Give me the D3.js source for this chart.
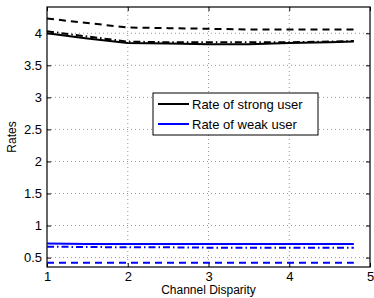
<!DOCTYPE html>
<html>
<head>
<meta charset="utf-8">
<script src="https://cdn.jsdelivr.net/npm/d3@7"></script>
<style>
  body { margin: 0; background: #fff; }
  text { font-family: "Liberation Sans", Arial, sans-serif; }
</style>
</head>
<body>
<div id="chart-area"></div>
<script>
// channel disparity samples
let xVals = [1, 1.5, 2, 2.5, 3, 3.5, 4, 4.5, 4.8];

let strongSolid   = [4.00, 3.92, 3.85, 3.84, 3.83, 3.83, 3.85, 3.86, 3.87];
let strongDashed  = [4.23, 4.16, 4.09, 4.08, 4.07, 4.06, 4.06, 4.06, 4.06];
let strongDashDot = [4.03, 3.95, 3.87, 3.86, 3.86, 3.86, 3.86, 3.87, 3.88];

let weakSolid   = [0.72, 0.71, 0.71, 0.71, 0.71, 0.71, 0.71, 0.71, 0.71];
let weakDashDot = [0.67, 0.665, 0.66, 0.66, 0.655, 0.655, 0.655, 0.655, 0.655];
let weakDashed  = [0.42, 0.42, 0.42, 0.42, 0.42, 0.42, 0.42, 0.42, 0.42];

let xTicks = [1, 2, 3, 4, 5];
let yTicks = [0.5, 1, 1.5, 2, 2.5, 3, 3.5, 4];

let legendNames = ["Rate of strong user", "Rate of weak user"];
let legendColors = ["#000", "#0000ff"];

let margin = { left: 47, top: 7, right: 4, bottom: 31 };
let width = 374 - margin.left - margin.right;
let height = 298 - margin.top - margin.bottom;

let svg = d3.select("#chart-area")
    .append("svg")
    .attr("width", 374)
    .attr("height", 298);

let g = svg.append("g")
    .attr("transform", `translate(${margin.left}, ${margin.top})`);

let xScale = d3.scaleLinear().domain([1, 5]).range([0, width]);
let yScale = d3.scaleLinear().domain([0.353, 4.41]).range([height, 0]);

// dotted grid
g.append("g")
    .selectAll("line")
    .data(xTicks.slice(1, -1))
    .enter().append("line")
    .attr("x1", d => xScale(d)).attr("x2", d => xScale(d))
    .attr("y1", 0).attr("y2", height)
    .attr("stroke", "#999").attr("stroke-width", 1)
    .attr("stroke-dasharray", "1,3");

g.append("g")
    .selectAll("line")
    .data(yTicks)
    .enter().append("line")
    .attr("x1", 0).attr("x2", width)
    .attr("y1", d => yScale(d)).attr("y2", d => yScale(d))
    .attr("stroke", "#999").attr("stroke-width", 1)
    .attr("stroke-dasharray", "1,3");

// axes (ticks inward)
let fmt = d => String(d);
let xAxisCall = d3.axisBottom(xScale).tickValues(xTicks).tickFormat(fmt).tickSizeInner(-4).tickSizeOuter(0).tickPadding(5);
let xAxis = g.append("g").attr("transform", `translate(0, ${height})`).call(xAxisCall);

let yAxisCall = d3.axisLeft(yScale).tickValues(yTicks).tickFormat(fmt).tickSizeInner(-4).tickSizeOuter(0).tickPadding(5);
let yAxis = g.append("g").call(yAxisCall);

let xAxisTop = g.append("g").call(d3.axisTop(xScale).tickValues(xTicks).tickSizeInner(-4).tickSizeOuter(0).tickFormat(""));
let yAxisRight = g.append("g").attr("transform", `translate(${width}, 0)`)
    .call(d3.axisRight(yScale).tickValues(yTicks).tickSizeInner(-4).tickSizeOuter(0).tickFormat(""));

[xAxis, yAxis, xAxisTop, yAxisRight].forEach(a => {
    a.select(".domain").remove();
    a.selectAll("line").attr("stroke", "#000");
    a.selectAll("text").attr("font-size", "13px").attr("fill", "#000")
        .attr("font-family", "'Liberation Sans', Arial, sans-serif");
});

g.append("rect")
    .attr("width", width).attr("height", height)
    .attr("fill", "none").attr("stroke", "#000").attr("stroke-width", 1.2);

// series
let line = d3.line()
    .x((d, i) => xScale(xVals[i]))
    .y(d => yScale(d));

let series = [
    { values: strongDashed, color: "#000", dash: "7,5" },
    { values: strongDashDot, color: "#000", dash: "7,3,1.5,3" },
    { values: strongSolid, color: "#000", dash: null },
    { values: weakSolid, color: "#0000ff", dash: null },
    { values: weakDashDot, color: "#0000ff", dash: "7,3,1.5,3" },
    { values: weakDashed, color: "#0000ff", dash: "7,5" }
];

series.forEach(function(s){
    g.append("path")
        .datum(s.values)
        .attr("d", line)
        .attr("fill", "none")
        .attr("stroke", s.color)
        .attr("stroke-width", 2)
        .attr("stroke-dasharray", s.dash);
});

// legend
let legend = g.append("g").attr("transform", `translate(${153 - margin.left}, ${93 - margin.top})`);
legend.append("rect")
    .attr("width", 165).attr("height", 42)
    .attr("fill", "#fff").attr("stroke", "#000").attr("stroke-width", 1);

legendNames.forEach(function(name, i){
    let row = legend.append("g").attr("transform", `translate(0, ${11 + i * 20})`);
    row.append("line")
        .attr("x1", 5).attr("x2", 36)
        .attr("stroke", legendColors[i]).attr("stroke-width", 2);
    row.append("text")
        .attr("x", 39).attr("y", 4.5)
        .attr("font-size", "13px")
        .text(name);
});

// axis labels
svg.append("text")
    .attr("text-anchor", "middle")
    .attr("transform", `translate(16, ${margin.top + height / 2}) rotate(-90)`)
    .attr("font-size", "12px")
    .text("Rates");

svg.append("text")
    .attr("text-anchor", "middle")
    .attr("x", margin.left + width / 2)
    .attr("y", 294)
    .attr("font-size", "12px")
    .text("Channel Disparity");
</script>
</body>
</html>
